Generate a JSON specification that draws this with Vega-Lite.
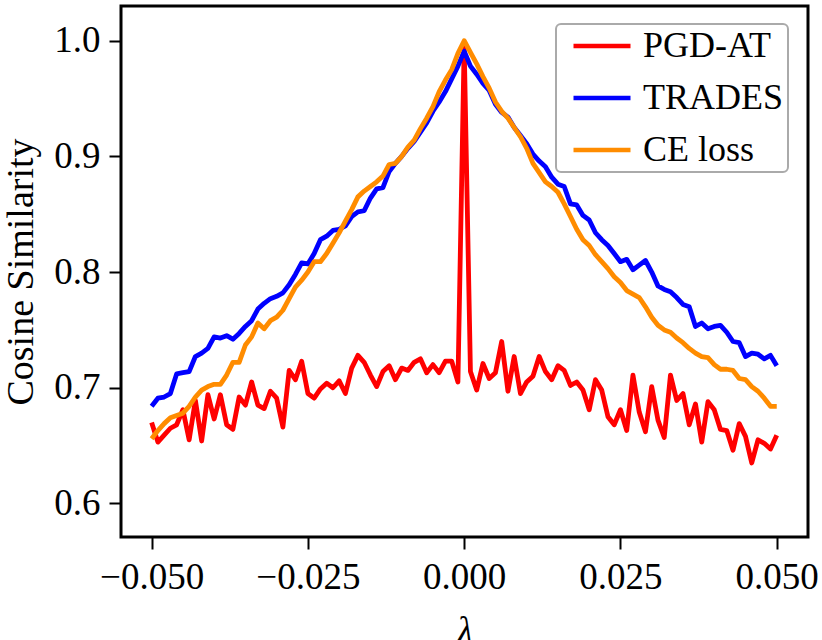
{
  "$schema": "https://vega.github.io/schema/vega-lite/v6.json",
  "width": 687,
  "height": 531,
  "autosize": "none",
  "padding": {"left": 121, "top": 6, "right": 14, "bottom": 103},
  "background": "white",
  "data": {
    "values": [
      {"lambda": -0.05, "method": "PGD-AT", "cos": 0.670},
      {"lambda": -0.049, "method": "PGD-AT", "cos": 0.653},
      {"lambda": -0.048, "method": "PGD-AT", "cos": 0.659},
      {"lambda": -0.047, "method": "PGD-AT", "cos": 0.665},
      {"lambda": -0.046, "method": "PGD-AT", "cos": 0.668},
      {"lambda": -0.045, "method": "PGD-AT", "cos": 0.681},
      {"lambda": -0.044, "method": "PGD-AT", "cos": 0.655},
      {"lambda": -0.043, "method": "PGD-AT", "cos": 0.689},
      {"lambda": -0.042, "method": "PGD-AT", "cos": 0.654},
      {"lambda": -0.041, "method": "PGD-AT", "cos": 0.694},
      {"lambda": -0.04, "method": "PGD-AT", "cos": 0.673},
      {"lambda": -0.039, "method": "PGD-AT", "cos": 0.694},
      {"lambda": -0.038, "method": "PGD-AT", "cos": 0.668},
      {"lambda": -0.037, "method": "PGD-AT", "cos": 0.664},
      {"lambda": -0.036, "method": "PGD-AT", "cos": 0.692},
      {"lambda": -0.035, "method": "PGD-AT", "cos": 0.685},
      {"lambda": -0.034, "method": "PGD-AT", "cos": 0.705},
      {"lambda": -0.033, "method": "PGD-AT", "cos": 0.685},
      {"lambda": -0.032, "method": "PGD-AT", "cos": 0.682},
      {"lambda": -0.031, "method": "PGD-AT", "cos": 0.697},
      {"lambda": -0.03, "method": "PGD-AT", "cos": 0.691},
      {"lambda": -0.029, "method": "PGD-AT", "cos": 0.666},
      {"lambda": -0.028, "method": "PGD-AT", "cos": 0.715},
      {"lambda": -0.027, "method": "PGD-AT", "cos": 0.707},
      {"lambda": -0.026, "method": "PGD-AT", "cos": 0.723},
      {"lambda": -0.025, "method": "PGD-AT", "cos": 0.695},
      {"lambda": -0.024, "method": "PGD-AT", "cos": 0.691},
      {"lambda": -0.023, "method": "PGD-AT", "cos": 0.699},
      {"lambda": -0.022, "method": "PGD-AT", "cos": 0.704},
      {"lambda": -0.021, "method": "PGD-AT", "cos": 0.700},
      {"lambda": -0.02, "method": "PGD-AT", "cos": 0.706},
      {"lambda": -0.019, "method": "PGD-AT", "cos": 0.695},
      {"lambda": -0.018, "method": "PGD-AT", "cos": 0.717},
      {"lambda": -0.017, "method": "PGD-AT", "cos": 0.728},
      {"lambda": -0.016, "method": "PGD-AT", "cos": 0.722},
      {"lambda": -0.015, "method": "PGD-AT", "cos": 0.711},
      {"lambda": -0.014, "method": "PGD-AT", "cos": 0.701},
      {"lambda": -0.013, "method": "PGD-AT", "cos": 0.714},
      {"lambda": -0.012, "method": "PGD-AT", "cos": 0.719},
      {"lambda": -0.011, "method": "PGD-AT", "cos": 0.707},
      {"lambda": -0.01, "method": "PGD-AT", "cos": 0.717},
      {"lambda": -0.009, "method": "PGD-AT", "cos": 0.715},
      {"lambda": -0.008, "method": "PGD-AT", "cos": 0.722},
      {"lambda": -0.007, "method": "PGD-AT", "cos": 0.725},
      {"lambda": -0.006, "method": "PGD-AT", "cos": 0.713},
      {"lambda": -0.005, "method": "PGD-AT", "cos": 0.720},
      {"lambda": -0.004, "method": "PGD-AT", "cos": 0.713},
      {"lambda": -0.003, "method": "PGD-AT", "cos": 0.723},
      {"lambda": -0.002, "method": "PGD-AT", "cos": 0.723},
      {"lambda": -0.001, "method": "PGD-AT", "cos": 0.705},
      {"lambda": 0, "method": "PGD-AT", "cos": 0.996},
      {"lambda": 0.001, "method": "PGD-AT", "cos": 0.714},
      {"lambda": 0.002, "method": "PGD-AT", "cos": 0.698},
      {"lambda": 0.003, "method": "PGD-AT", "cos": 0.721},
      {"lambda": 0.004, "method": "PGD-AT", "cos": 0.708},
      {"lambda": 0.005, "method": "PGD-AT", "cos": 0.713},
      {"lambda": 0.006, "method": "PGD-AT", "cos": 0.740},
      {"lambda": 0.007, "method": "PGD-AT", "cos": 0.697},
      {"lambda": 0.008, "method": "PGD-AT", "cos": 0.727},
      {"lambda": 0.009, "method": "PGD-AT", "cos": 0.695},
      {"lambda": 0.01, "method": "PGD-AT", "cos": 0.705},
      {"lambda": 0.011, "method": "PGD-AT", "cos": 0.710},
      {"lambda": 0.012, "method": "PGD-AT", "cos": 0.727},
      {"lambda": 0.013, "method": "PGD-AT", "cos": 0.714},
      {"lambda": 0.014, "method": "PGD-AT", "cos": 0.707},
      {"lambda": 0.015, "method": "PGD-AT", "cos": 0.719},
      {"lambda": 0.016, "method": "PGD-AT", "cos": 0.715},
      {"lambda": 0.017, "method": "PGD-AT", "cos": 0.702},
      {"lambda": 0.018, "method": "PGD-AT", "cos": 0.705},
      {"lambda": 0.019, "method": "PGD-AT", "cos": 0.698},
      {"lambda": 0.02, "method": "PGD-AT", "cos": 0.681},
      {"lambda": 0.021, "method": "PGD-AT", "cos": 0.707},
      {"lambda": 0.022, "method": "PGD-AT", "cos": 0.698},
      {"lambda": 0.023, "method": "PGD-AT", "cos": 0.675},
      {"lambda": 0.024, "method": "PGD-AT", "cos": 0.668},
      {"lambda": 0.025, "method": "PGD-AT", "cos": 0.681},
      {"lambda": 0.026, "method": "PGD-AT", "cos": 0.663},
      {"lambda": 0.027, "method": "PGD-AT", "cos": 0.711},
      {"lambda": 0.028, "method": "PGD-AT", "cos": 0.679},
      {"lambda": 0.029, "method": "PGD-AT", "cos": 0.662},
      {"lambda": 0.03, "method": "PGD-AT", "cos": 0.701},
      {"lambda": 0.031, "method": "PGD-AT", "cos": 0.672},
      {"lambda": 0.032, "method": "PGD-AT", "cos": 0.657},
      {"lambda": 0.033, "method": "PGD-AT", "cos": 0.711},
      {"lambda": 0.034, "method": "PGD-AT", "cos": 0.689},
      {"lambda": 0.035, "method": "PGD-AT", "cos": 0.695},
      {"lambda": 0.036, "method": "PGD-AT", "cos": 0.668},
      {"lambda": 0.037, "method": "PGD-AT", "cos": 0.686},
      {"lambda": 0.038, "method": "PGD-AT", "cos": 0.653},
      {"lambda": 0.039, "method": "PGD-AT", "cos": 0.688},
      {"lambda": 0.04, "method": "PGD-AT", "cos": 0.681},
      {"lambda": 0.041, "method": "PGD-AT", "cos": 0.664},
      {"lambda": 0.042, "method": "PGD-AT", "cos": 0.663},
      {"lambda": 0.043, "method": "PGD-AT", "cos": 0.646},
      {"lambda": 0.044, "method": "PGD-AT", "cos": 0.669},
      {"lambda": 0.045, "method": "PGD-AT", "cos": 0.658},
      {"lambda": 0.046, "method": "PGD-AT", "cos": 0.635},
      {"lambda": 0.047, "method": "PGD-AT", "cos": 0.655},
      {"lambda": 0.048, "method": "PGD-AT", "cos": 0.652},
      {"lambda": 0.049, "method": "PGD-AT", "cos": 0.647},
      {"lambda": 0.05, "method": "PGD-AT", "cos": 0.659},

      {"lambda": -0.05, "method": "TRADES", "cos": 0.684},
      {"lambda": -0.049, "method": "TRADES", "cos": 0.691},
      {"lambda": -0.048, "method": "TRADES", "cos": 0.692},
      {"lambda": -0.047, "method": "TRADES", "cos": 0.695},
      {"lambda": -0.046, "method": "TRADES", "cos": 0.712},
      {"lambda": -0.045, "method": "TRADES", "cos": 0.713},
      {"lambda": -0.044, "method": "TRADES", "cos": 0.714},
      {"lambda": -0.043, "method": "TRADES", "cos": 0.727},
      {"lambda": -0.042, "method": "TRADES", "cos": 0.730},
      {"lambda": -0.041, "method": "TRADES", "cos": 0.734},
      {"lambda": -0.04, "method": "TRADES", "cos": 0.744},
      {"lambda": -0.039, "method": "TRADES", "cos": 0.743},
      {"lambda": -0.038, "method": "TRADES", "cos": 0.745},
      {"lambda": -0.037, "method": "TRADES", "cos": 0.742},
      {"lambda": -0.036, "method": "TRADES", "cos": 0.747},
      {"lambda": -0.035, "method": "TRADES", "cos": 0.753},
      {"lambda": -0.034, "method": "TRADES", "cos": 0.758},
      {"lambda": -0.033, "method": "TRADES", "cos": 0.768},
      {"lambda": -0.032, "method": "TRADES", "cos": 0.773},
      {"lambda": -0.031, "method": "TRADES", "cos": 0.777},
      {"lambda": -0.03, "method": "TRADES", "cos": 0.779},
      {"lambda": -0.029, "method": "TRADES", "cos": 0.782},
      {"lambda": -0.028, "method": "TRADES", "cos": 0.789},
      {"lambda": -0.027, "method": "TRADES", "cos": 0.798},
      {"lambda": -0.026, "method": "TRADES", "cos": 0.808},
      {"lambda": -0.025, "method": "TRADES", "cos": 0.807},
      {"lambda": -0.024, "method": "TRADES", "cos": 0.816},
      {"lambda": -0.023, "method": "TRADES", "cos": 0.828},
      {"lambda": -0.022, "method": "TRADES", "cos": 0.831},
      {"lambda": -0.021, "method": "TRADES", "cos": 0.836},
      {"lambda": -0.02, "method": "TRADES", "cos": 0.837},
      {"lambda": -0.019, "method": "TRADES", "cos": 0.840},
      {"lambda": -0.018, "method": "TRADES", "cos": 0.848},
      {"lambda": -0.017, "method": "TRADES", "cos": 0.852},
      {"lambda": -0.016, "method": "TRADES", "cos": 0.853},
      {"lambda": -0.015, "method": "TRADES", "cos": 0.864},
      {"lambda": -0.014, "method": "TRADES", "cos": 0.872},
      {"lambda": -0.013, "method": "TRADES", "cos": 0.873},
      {"lambda": -0.012, "method": "TRADES", "cos": 0.887},
      {"lambda": -0.011, "method": "TRADES", "cos": 0.894},
      {"lambda": -0.01, "method": "TRADES", "cos": 0.900},
      {"lambda": -0.009, "method": "TRADES", "cos": 0.907},
      {"lambda": -0.008, "method": "TRADES", "cos": 0.913},
      {"lambda": -0.007, "method": "TRADES", "cos": 0.921},
      {"lambda": -0.006, "method": "TRADES", "cos": 0.929},
      {"lambda": -0.005, "method": "TRADES", "cos": 0.939},
      {"lambda": -0.004, "method": "TRADES", "cos": 0.947},
      {"lambda": -0.003, "method": "TRADES", "cos": 0.956},
      {"lambda": -0.002, "method": "TRADES", "cos": 0.967},
      {"lambda": -0.001, "method": "TRADES", "cos": 0.978},
      {"lambda": 0, "method": "TRADES", "cos": 0.991},
      {"lambda": 0.001, "method": "TRADES", "cos": 0.978},
      {"lambda": 0.002, "method": "TRADES", "cos": 0.971},
      {"lambda": 0.003, "method": "TRADES", "cos": 0.963},
      {"lambda": 0.004, "method": "TRADES", "cos": 0.957},
      {"lambda": 0.005, "method": "TRADES", "cos": 0.945},
      {"lambda": 0.006, "method": "TRADES", "cos": 0.938},
      {"lambda": 0.007, "method": "TRADES", "cos": 0.934},
      {"lambda": 0.008, "method": "TRADES", "cos": 0.925},
      {"lambda": 0.009, "method": "TRADES", "cos": 0.918},
      {"lambda": 0.01, "method": "TRADES", "cos": 0.911},
      {"lambda": 0.011, "method": "TRADES", "cos": 0.902},
      {"lambda": 0.012, "method": "TRADES", "cos": 0.896},
      {"lambda": 0.013, "method": "TRADES", "cos": 0.891},
      {"lambda": 0.014, "method": "TRADES", "cos": 0.882},
      {"lambda": 0.015, "method": "TRADES", "cos": 0.876},
      {"lambda": 0.016, "method": "TRADES", "cos": 0.874},
      {"lambda": 0.017, "method": "TRADES", "cos": 0.859},
      {"lambda": 0.018, "method": "TRADES", "cos": 0.858},
      {"lambda": 0.019, "method": "TRADES", "cos": 0.849},
      {"lambda": 0.02, "method": "TRADES", "cos": 0.845},
      {"lambda": 0.021, "method": "TRADES", "cos": 0.834},
      {"lambda": 0.022, "method": "TRADES", "cos": 0.828},
      {"lambda": 0.023, "method": "TRADES", "cos": 0.823},
      {"lambda": 0.024, "method": "TRADES", "cos": 0.816},
      {"lambda": 0.025, "method": "TRADES", "cos": 0.809},
      {"lambda": 0.026, "method": "TRADES", "cos": 0.811},
      {"lambda": 0.027, "method": "TRADES", "cos": 0.802},
      {"lambda": 0.028, "method": "TRADES", "cos": 0.806},
      {"lambda": 0.029, "method": "TRADES", "cos": 0.810},
      {"lambda": 0.03, "method": "TRADES", "cos": 0.800},
      {"lambda": 0.031, "method": "TRADES", "cos": 0.788},
      {"lambda": 0.032, "method": "TRADES", "cos": 0.785},
      {"lambda": 0.033, "method": "TRADES", "cos": 0.783},
      {"lambda": 0.034, "method": "TRADES", "cos": 0.778},
      {"lambda": 0.035, "method": "TRADES", "cos": 0.772},
      {"lambda": 0.036, "method": "TRADES", "cos": 0.770},
      {"lambda": 0.037, "method": "TRADES", "cos": 0.753},
      {"lambda": 0.038, "method": "TRADES", "cos": 0.756},
      {"lambda": 0.039, "method": "TRADES", "cos": 0.751},
      {"lambda": 0.04, "method": "TRADES", "cos": 0.753},
      {"lambda": 0.041, "method": "TRADES", "cos": 0.754},
      {"lambda": 0.042, "method": "TRADES", "cos": 0.748},
      {"lambda": 0.043, "method": "TRADES", "cos": 0.740},
      {"lambda": 0.044, "method": "TRADES", "cos": 0.739},
      {"lambda": 0.045, "method": "TRADES", "cos": 0.727},
      {"lambda": 0.046, "method": "TRADES", "cos": 0.730},
      {"lambda": 0.047, "method": "TRADES", "cos": 0.729},
      {"lambda": 0.048, "method": "TRADES", "cos": 0.725},
      {"lambda": 0.049, "method": "TRADES", "cos": 0.728},
      {"lambda": 0.05, "method": "TRADES", "cos": 0.719},

      {"lambda": -0.05, "method": "CE loss", "cos": 0.656},
      {"lambda": -0.049, "method": "CE loss", "cos": 0.663},
      {"lambda": -0.048, "method": "CE loss", "cos": 0.669},
      {"lambda": -0.047, "method": "CE loss", "cos": 0.674},
      {"lambda": -0.046, "method": "CE loss", "cos": 0.676},
      {"lambda": -0.045, "method": "CE loss", "cos": 0.678},
      {"lambda": -0.044, "method": "CE loss", "cos": 0.684},
      {"lambda": -0.043, "method": "CE loss", "cos": 0.692},
      {"lambda": -0.042, "method": "CE loss", "cos": 0.698},
      {"lambda": -0.041, "method": "CE loss", "cos": 0.701},
      {"lambda": -0.04, "method": "CE loss", "cos": 0.703},
      {"lambda": -0.039, "method": "CE loss", "cos": 0.703},
      {"lambda": -0.038, "method": "CE loss", "cos": 0.711},
      {"lambda": -0.037, "method": "CE loss", "cos": 0.722},
      {"lambda": -0.036, "method": "CE loss", "cos": 0.722},
      {"lambda": -0.035, "method": "CE loss", "cos": 0.737},
      {"lambda": -0.034, "method": "CE loss", "cos": 0.744},
      {"lambda": -0.033, "method": "CE loss", "cos": 0.756},
      {"lambda": -0.032, "method": "CE loss", "cos": 0.751},
      {"lambda": -0.031, "method": "CE loss", "cos": 0.758},
      {"lambda": -0.03, "method": "CE loss", "cos": 0.761},
      {"lambda": -0.029, "method": "CE loss", "cos": 0.767},
      {"lambda": -0.028, "method": "CE loss", "cos": 0.777},
      {"lambda": -0.027, "method": "CE loss", "cos": 0.787},
      {"lambda": -0.026, "method": "CE loss", "cos": 0.793},
      {"lambda": -0.025, "method": "CE loss", "cos": 0.800},
      {"lambda": -0.024, "method": "CE loss", "cos": 0.809},
      {"lambda": -0.023, "method": "CE loss", "cos": 0.809},
      {"lambda": -0.022, "method": "CE loss", "cos": 0.816},
      {"lambda": -0.021, "method": "CE loss", "cos": 0.825},
      {"lambda": -0.02, "method": "CE loss", "cos": 0.834},
      {"lambda": -0.019, "method": "CE loss", "cos": 0.844},
      {"lambda": -0.018, "method": "CE loss", "cos": 0.854},
      {"lambda": -0.017, "method": "CE loss", "cos": 0.865},
      {"lambda": -0.016, "method": "CE loss", "cos": 0.870},
      {"lambda": -0.015, "method": "CE loss", "cos": 0.874},
      {"lambda": -0.014, "method": "CE loss", "cos": 0.878},
      {"lambda": -0.013, "method": "CE loss", "cos": 0.883},
      {"lambda": -0.012, "method": "CE loss", "cos": 0.893},
      {"lambda": -0.011, "method": "CE loss", "cos": 0.894},
      {"lambda": -0.01, "method": "CE loss", "cos": 0.900},
      {"lambda": -0.009, "method": "CE loss", "cos": 0.908},
      {"lambda": -0.008, "method": "CE loss", "cos": 0.914},
      {"lambda": -0.007, "method": "CE loss", "cos": 0.924},
      {"lambda": -0.006, "method": "CE loss", "cos": 0.933},
      {"lambda": -0.005, "method": "CE loss", "cos": 0.943},
      {"lambda": -0.004, "method": "CE loss", "cos": 0.956},
      {"lambda": -0.003, "method": "CE loss", "cos": 0.966},
      {"lambda": -0.002, "method": "CE loss", "cos": 0.975},
      {"lambda": -0.001, "method": "CE loss", "cos": 0.989},
      {"lambda": 0, "method": "CE loss", "cos": 1.000},
      {"lambda": 0.001, "method": "CE loss", "cos": 0.990},
      {"lambda": 0.002, "method": "CE loss", "cos": 0.980},
      {"lambda": 0.003, "method": "CE loss", "cos": 0.969},
      {"lambda": 0.004, "method": "CE loss", "cos": 0.959},
      {"lambda": 0.005, "method": "CE loss", "cos": 0.947},
      {"lambda": 0.006, "method": "CE loss", "cos": 0.939},
      {"lambda": 0.007, "method": "CE loss", "cos": 0.933},
      {"lambda": 0.008, "method": "CE loss", "cos": 0.925},
      {"lambda": 0.009, "method": "CE loss", "cos": 0.917},
      {"lambda": 0.01, "method": "CE loss", "cos": 0.907},
      {"lambda": 0.011, "method": "CE loss", "cos": 0.894},
      {"lambda": 0.012, "method": "CE loss", "cos": 0.886},
      {"lambda": 0.013, "method": "CE loss", "cos": 0.878},
      {"lambda": 0.014, "method": "CE loss", "cos": 0.874},
      {"lambda": 0.015, "method": "CE loss", "cos": 0.869},
      {"lambda": 0.016, "method": "CE loss", "cos": 0.859},
      {"lambda": 0.017, "method": "CE loss", "cos": 0.848},
      {"lambda": 0.018, "method": "CE loss", "cos": 0.837},
      {"lambda": 0.019, "method": "CE loss", "cos": 0.828},
      {"lambda": 0.02, "method": "CE loss", "cos": 0.823},
      {"lambda": 0.021, "method": "CE loss", "cos": 0.815},
      {"lambda": 0.022, "method": "CE loss", "cos": 0.809},
      {"lambda": 0.023, "method": "CE loss", "cos": 0.803},
      {"lambda": 0.024, "method": "CE loss", "cos": 0.796},
      {"lambda": 0.025, "method": "CE loss", "cos": 0.791},
      {"lambda": 0.026, "method": "CE loss", "cos": 0.784},
      {"lambda": 0.027, "method": "CE loss", "cos": 0.781},
      {"lambda": 0.028, "method": "CE loss", "cos": 0.778},
      {"lambda": 0.029, "method": "CE loss", "cos": 0.770},
      {"lambda": 0.03, "method": "CE loss", "cos": 0.761},
      {"lambda": 0.031, "method": "CE loss", "cos": 0.754},
      {"lambda": 0.032, "method": "CE loss", "cos": 0.750},
      {"lambda": 0.033, "method": "CE loss", "cos": 0.748},
      {"lambda": 0.034, "method": "CE loss", "cos": 0.743},
      {"lambda": 0.035, "method": "CE loss", "cos": 0.739},
      {"lambda": 0.036, "method": "CE loss", "cos": 0.734},
      {"lambda": 0.037, "method": "CE loss", "cos": 0.730},
      {"lambda": 0.038, "method": "CE loss", "cos": 0.727},
      {"lambda": 0.039, "method": "CE loss", "cos": 0.726},
      {"lambda": 0.04, "method": "CE loss", "cos": 0.720},
      {"lambda": 0.041, "method": "CE loss", "cos": 0.716},
      {"lambda": 0.042, "method": "CE loss", "cos": 0.716},
      {"lambda": 0.043, "method": "CE loss", "cos": 0.715},
      {"lambda": 0.044, "method": "CE loss", "cos": 0.708},
      {"lambda": 0.045, "method": "CE loss", "cos": 0.707},
      {"lambda": 0.046, "method": "CE loss", "cos": 0.701},
      {"lambda": 0.047, "method": "CE loss", "cos": 0.697},
      {"lambda": 0.048, "method": "CE loss", "cos": 0.691},
      {"lambda": 0.049, "method": "CE loss", "cos": 0.684},
      {"lambda": 0.05, "method": "CE loss", "cos": 0.684}
    ]
  },
  "encoding": {
    "x": {
      "field": "lambda",
      "type": "quantitative",
      "scale": {"domain": [-0.0549, 0.055], "nice": false, "zero": false},
      "axis": {
        "title": "λ",
        "titleFontStyle": "italic",
        "titlePadding": 18,
        "values": [-0.05, -0.025, 0, 0.025, 0.05],
        "format": ".3f",
        "labelPadding": 10
      }
    },
    "y": {
      "field": "cos",
      "type": "quantitative",
      "scale": {"domain": [0.571, 1.03], "nice": false, "zero": false},
      "axis": {
        "title": "Cosine Similarity",
        "titleFontSize": 38,
        "titlePadding": 13,
        "values": [0.6, 0.7, 0.8, 0.9, 1.0],
        "format": ".1f",
        "labelPadding": 9
      }
    },
    "color": {
      "field": "method",
      "type": "nominal",
      "scale": {
        "domain": ["PGD-AT", "TRADES", "CE loss"],
        "range": ["#ff0000", "#0000ff", "#ff8c00"]
      },
      "legend": {
        "title": null,
        "orient": "none",
        "legendX": 435,
        "legendY": 18
      }
    }
  },
  "layer": [
    {
      "transform": [{"filter": "datum.method == 'PGD-AT'"}],
      "mark": {"type": "line", "strokeWidth": 4.8, "strokeJoin": "round"}
    },
    {
      "transform": [{"filter": "datum.method == 'TRADES'"}],
      "mark": {"type": "line", "strokeWidth": 4.8, "strokeJoin": "round"}
    },
    {
      "transform": [{"filter": "datum.method == 'CE loss'"}],
      "mark": {"type": "line", "strokeWidth": 4.8, "strokeJoin": "round"}
    }
  ],
  "config": {
    "font": "Liberation Serif",
    "view": {"stroke": "black", "strokeWidth": 3},
    "axis": {
      "domain": false,
      "grid": false,
      "ticks": true,
      "tickColor": "black",
      "tickWidth": 2,
      "tickSize": 12,
      "labelFont": "Liberation Serif",
      "labelFontSize": 37,
      "labelColor": "black",
      "titleFont": "Liberation Serif",
      "titleFontSize": 37,
      "titleFontWeight": "normal",
      "titleColor": "black"
    },
    "legend": {
      "labelFont": "Liberation Serif",
      "labelFontSize": 36,
      "labelColor": "black",
      "symbolType": "stroke",
      "symbolStrokeWidth": 4.5,
      "symbolSize": 3249,
      "symbolOffset": 11,
      "labelOffset": 10,
      "clipHeight": 36,
      "rowPadding": 16,
      "padding": 4,
      "fillColor": "rgba(255,255,255,0.8)",
      "strokeColor": "#aaaaaa",
      "strokeWidth": 2,
      "cornerRadius": 5
    }
  }
}
